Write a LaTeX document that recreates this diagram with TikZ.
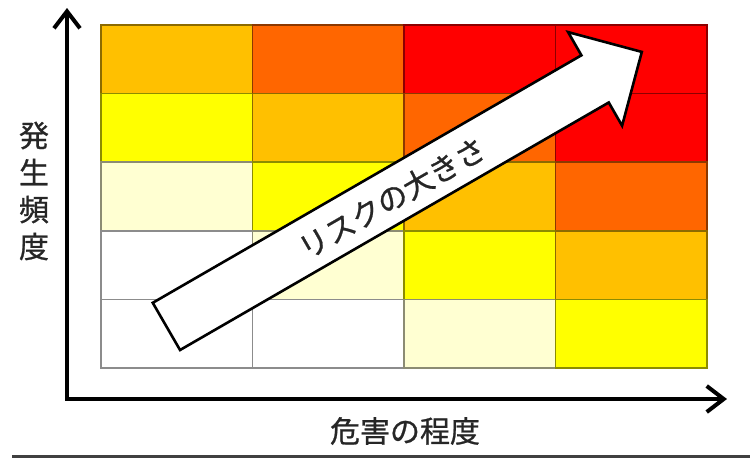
\documentclass[tikz,border=0pt]{standalone}
\usepackage{fontspec}
\newfontfamily\jp[FakeBold=0.8]{Noto Sans CJK JP}
\usetikzlibrary{arrows.meta}
\definecolor{cW}{HTML}{FFFFFF}
\definecolor{cL}{HTML}{FFFFD2}
\definecolor{cY}{HTML}{FFFF00}
\definecolor{cO}{HTML}{FFC000}
\definecolor{cD}{HTML}{FF6600}
\definecolor{cR}{HTML}{FF0000}
\begin{document}
\begin{tikzpicture}[x=1pt,y=-1pt,
  cellbox/.style={fill=#1, draw=#1!55!black, line width=1.5pt},
  axisline/.style={line width=4pt, line join=miter,
    {Straight Barb[length=17pt,width=26pt,line width=4pt]}-{Straight Barb[length=17pt,width=26pt,line width=4pt]}},
  bigarrow/.style={fill=white, draw=black, line width=2.6pt, line join=miter},
  lbl/.style={font=\jp\fontsize{30}{37}\selectfont, inner sep=0pt, text=black!85}]
\useasboundingbox (0,0) rectangle (750,459);
% grid
\foreach \r/\c/\col in {0/0/cO,0/1/cD,0/2/cR,0/3/cR,
                        1/0/cY,1/1/cO,1/2/cD,1/3/cR,
                        2/0/cL,2/1/cY,2/2/cO,2/3/cD,
                        3/0/cW,3/1/cL,3/2/cY,3/3/cO,
                        4/0/cW,4/1/cW,4/2/cL,4/3/cY}
  \draw[cellbox=\col] ({101+151.5*\c},{25+68.6*\r}) rectangle ++(151.5,68.6);
% axes
\coordinate (ytip) at (67,8);
\coordinate (xtip) at (727,399);
\draw[axisline] (ytip) |- (xtip);
% big arrow
\draw[bigarrow] (152.75,302.8) -- (581.4,55.3) -- (568.1,32.1) -- (641.8,51.9)
  -- (622.1,125.7) -- (608.75,102.5) -- (180.05,350.0) -- cycle;
\node[lbl, rotate=30] (risk) at (392,198) {リスクの大きさ};
% labels
\node[lbl, align=center] (freq) at (34,191) {発\\生\\頻\\度};
\node[lbl] (harm) at (405,431) {危害の程度};
% bottom rule
\coordinate (bl) at (12,456.5);
\coordinate (br) at (750,456.5);
\draw[line width=3pt, black!75] (bl) -- (br);
\end{tikzpicture}
\end{document}
